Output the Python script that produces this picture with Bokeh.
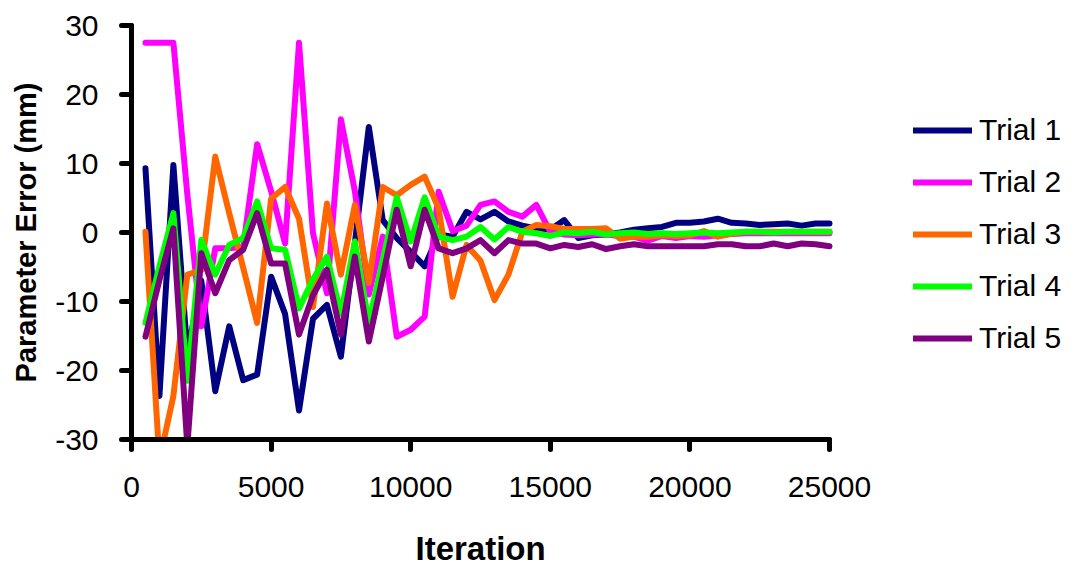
from bokeh.plotting import figure
from bokeh.models import Legend, LegendItem, FixedTicker, Title
from bokeh.embed import file_html
from bokeh.resources import INLINE

# ---------------- data ----------------
iterations = [500, 1000, 1500, 2000, 2500, 3000, 3500, 4000, 4500, 5000,
              5500, 6000, 6500, 7000, 7500, 8000, 8500, 9000, 9500, 10000,
              10500, 11000, 11500, 12000, 12500, 13000, 13500, 14000, 14500, 15000,
              15500, 16000, 16500, 17000, 17500, 18000, 18500, 19000, 19500, 20000,
              20500, 21000, 21500, 22000, 22500, 23000, 23500, 24000, 24500, 25000]

trial1 = [9.3, -23.7, 9.8, -17.5, -7.0, -23.0, -13.6, -21.4, -20.6, -6.4,
          -11.8, -25.8, -12.5, -10.5, -18.0, -1.5, 15.3, 1.8, -0.8, -2.8,
          -4.9, -0.3, -0.6, 3.0, 1.9, 3.0, 1.6, 1.0, 0.6, 0.4,
          1.8, -0.8, -0.4, -0.3, 0.0, 0.4, 0.6, 0.8, 1.4, 1.4,
          1.6, 2.0, 1.4, 1.3, 1.1, 1.2, 1.3, 1.0, 1.3, 1.3]

trial2 = [27.5, 27.5, 27.5, 5.5, -13.6, -2.3, -2.3, -2.1, 12.8, 6.0,
          -1.6, 27.5, -0.1, -8.8, 16.4, 6.0, -9.0, -0.6, -15.1, -14.1,
          -12.2, 5.9, 0.2, 1.0, 4.0, 4.5, 3.0, 2.3, 4.0, 0.1,
          -0.3, -0.4, -0.3, -0.3, -0.5, -0.6, -1.2, -0.5, -0.8, -0.5,
          -0.6, -0.4, -0.2, -0.1, -0.1, -0.1, -0.1, -0.1, -0.1, -0.1]

trial3 = [0.1, -33.0, -23.7, -6.1, -5.5, 11.0, 2.8, -5.1, -13.1, 4.9,
          6.6, 2.0, -10.8, 4.2, -6.1, 4.0, -7.3, 6.6, 5.4, 6.9,
          8.1, 3.5, -9.3, -1.8, -4.1, -9.8, -6.1, 0.1, 1.1, 0.9,
          0.5, 0.5, 0.5, 0.6, -0.9, -0.6, -0.6, -0.4, -0.5, -0.4,
          0.2, -0.6, -0.2, 0.1, 0.1, 0.1, 0.1, 0.1, 0.1, 0.1]

trial4 = [-13.1, -4.9, 2.8, -21.5, -1.1, -6.1, -1.8, -0.8, 4.5, -2.3,
          -2.5, -11.0, -6.8, -3.5, -11.8, -1.3, -13.1, -4.0, 5.1, -1.3,
          5.1, -0.6, -1.1, -0.6, 0.8, -1.0, 0.8, 0.1, -0.1, -0.5,
          0.0, -0.1, 0.1, -0.3, -0.1, 0.0, -0.2, -0.1, -0.2, -0.1,
          0.0, -0.1, 0.0, 0.1, 0.1, 0.0, 0.1, 0.1, 0.1, 0.1]

trial5 = [-15.1, -6.9, 0.6, -31.0, -3.0, -8.8, -4.0, -2.5, 2.8, -4.5,
          -4.5, -14.8, -9.1, -5.4, -14.8, -3.5, -15.8, -6.4, 3.3, -4.9,
          3.3, -2.3, -3.0, -2.3, -1.1, -3.0, -1.1, -1.6, -1.6, -2.3,
          -1.8, -2.1, -1.7, -2.4, -2.0, -1.7, -2.0, -2.0, -2.0, -2.0,
          -2.0, -1.7, -1.7, -2.0, -2.0, -1.6, -2.0, -1.6, -1.7, -2.0]

series_names = ["Trial 1", "Trial 2", "Trial 3", "Trial 4", "Trial 5"]
series_values = [trial1, trial2, trial3, trial4, trial5]
series_colors = ["#000080", "#FF00FF", "#FF6600", "#00FF00", "#800080"]

x_ticks = [0, 5000, 10000, 15000, 20000, 25000]
x_tick_labels = ["0", "5000", "10000", "15000", "20000", "25000"]
y_ticks = [-30, -20, -10, 0, 10, 20, 30]
y_tick_labels = ["-30", "-20", "-10", "0", "10", "20", "30"]

FONT = "Liberation Sans"

# frame spans the full width to the right so the legend can sit inside it;
# the x axis itself is bounded to 0..25000 (698 px wide)
LEFT = 131
FRAME_W = 1075 - LEFT
X_END = 25000 * FRAME_W / 698.0

p = figure(width=1075, height=567, output_backend="svg", toolbar_location=None,
           x_range=(0, X_END), y_range=(-30, 30),
           min_border_left=LEFT, min_border_right=0,
           min_border_top=25, min_border_bottom=128)

p.outline_line_color = None
p.xgrid.visible = False
p.ygrid.visible = False
p.background_fill_color = "white"
p.border_fill_color = "white"

renderers = []
for name, vals, col in zip(series_names, series_values, series_colors):
    r = p.line(iterations, vals, line_color=col, line_width=6,
               line_join="round", line_cap="round")
    renderers.append(r)

for ax, ticks, labels in ((p.xaxis[0], x_ticks, x_tick_labels),
                          (p.yaxis[0], y_ticks, y_tick_labels)):
    ax.ticker = FixedTicker(ticks=ticks)
    ax.major_label_overrides = {t: l for t, l in zip(ticks, labels)}
    ax.minor_tick_line_color = None
    ax.axis_line_width = 5
    ax.axis_line_cap = "round"
    ax.major_tick_line_width = 5
    ax.major_tick_line_cap = "round"
    ax.major_tick_in = 0
    ax.major_tick_out = 10
    ax.major_label_text_font = FONT
    ax.major_label_text_font_size = "30px"
    ax.major_label_text_color = "black"
    ax.axis_label_text_font = FONT
    ax.axis_label_text_font_style = "bold"
    ax.axis_label_text_color = "black"

p.xaxis[0].bounds = (0, 25000)
p.xaxis[0].major_label_standoff = 27
# blank, tiny axis label only reserves vertical room above the x title
p.xaxis[0].axis_label = " "
p.xaxis[0].axis_label_text_font_size = "1px"
p.xaxis[0].axis_label_standoff = 23

# x-axis title centred under the 0..25000 axis span
x_title = Title(text="Iteration", align="left", offset=284, standoff=2,
                text_font=FONT, text_font_size="33px", text_font_style="bold",
                text_color="black")
p.add_layout(x_title, "below")

p.yaxis[0].axis_label = "Parameter Error (mm)"
p.yaxis[0].axis_label_text_font_size = "29px"
p.yaxis[0].major_label_standoff = 23
p.yaxis[0].axis_label_standoff = 10

items = [LegendItem(label=n, renderers=[r]) for n, r in zip(series_names, renderers)]
legend = Legend(items=items, location=(782, 84), orientation="vertical",
                label_text_font=FONT, label_text_font_size="30px",
                label_text_color="black",
                glyph_width=59, glyph_height=30, label_height=30,
                label_standoff=7, spacing=18, padding=0, margin=0,
                border_line_color=None, background_fill_alpha=0)
p.add_layout(legend, "center")

open("out.html", "w").write(file_html(p, INLINE))
